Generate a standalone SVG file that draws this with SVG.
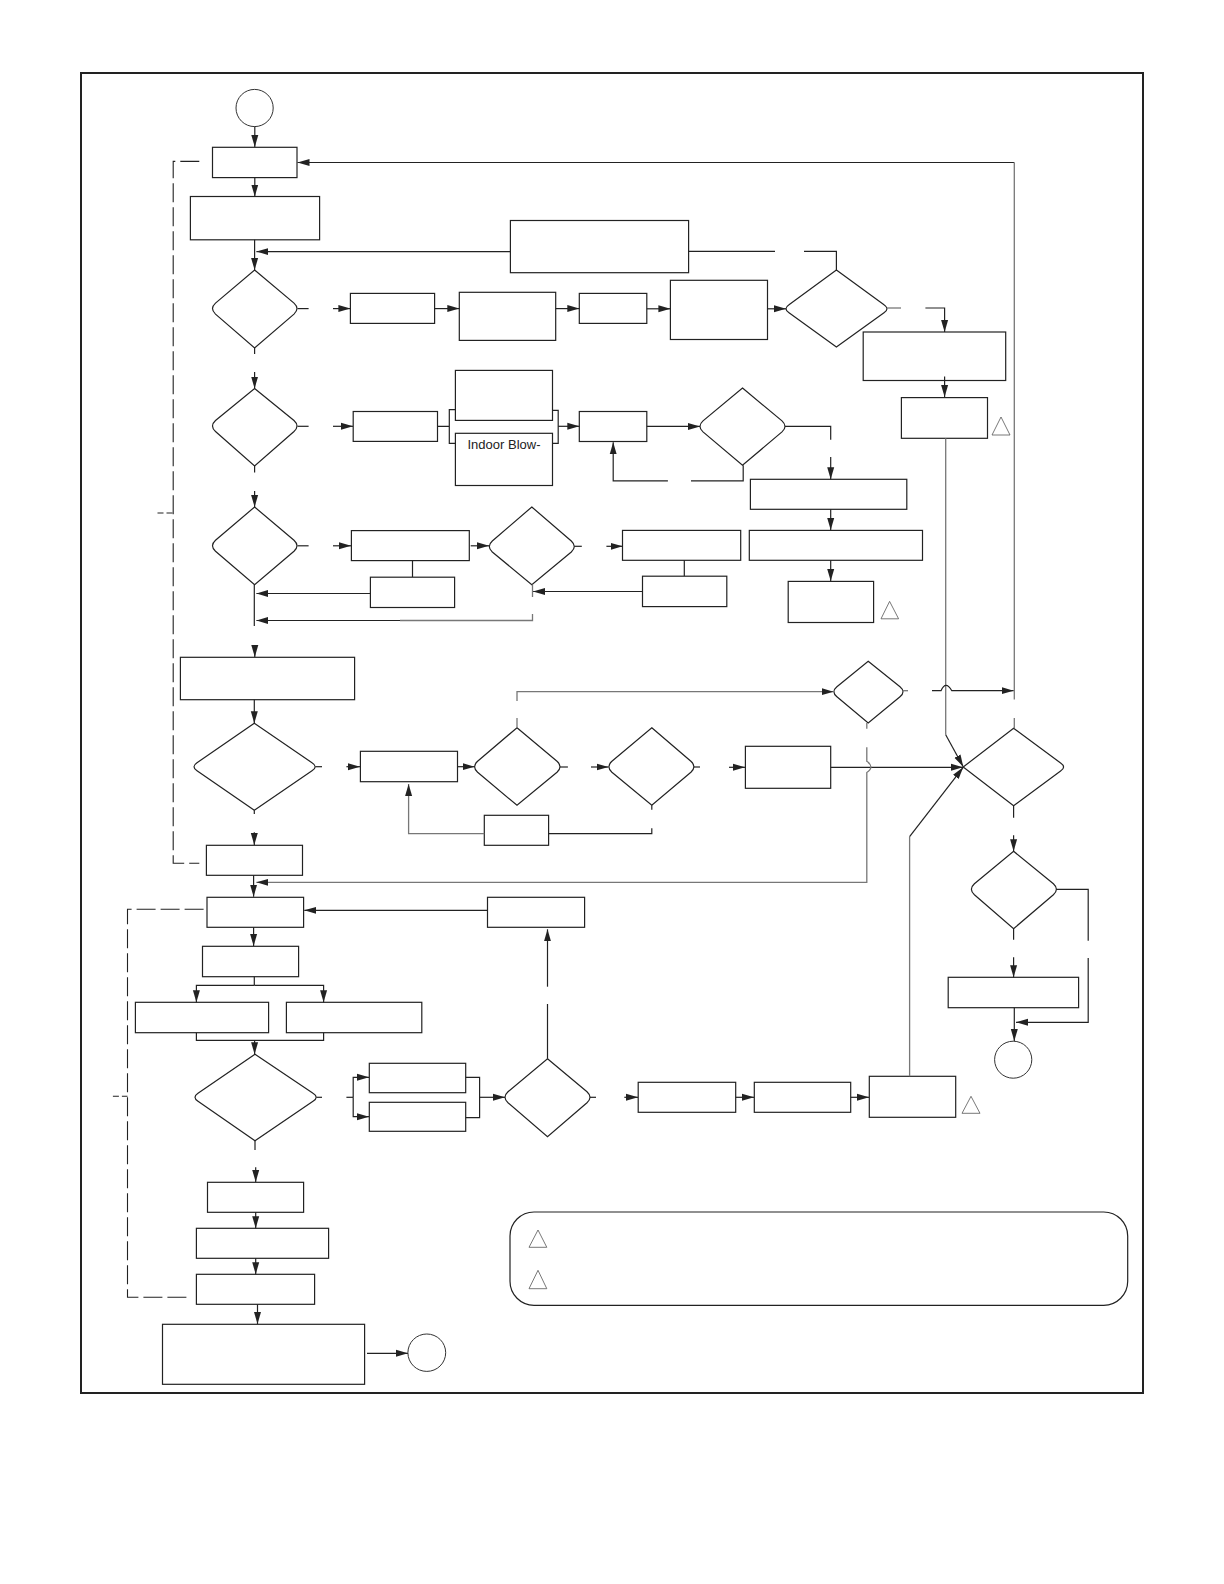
<svg xmlns="http://www.w3.org/2000/svg" width="1224" height="1584" viewBox="0 0 1224 1584">
<style>
.n{fill:#fff;stroke:#222;stroke-width:1.2}
.c{fill:#fff;stroke:#333;stroke-width:1}
.t{fill:none;stroke:#555;stroke-width:.8}
.l{fill:none;stroke:#222;stroke-width:1.2}
.g{fill:none;stroke:#777;stroke-width:1.3}
.a{marker-end:url(#ah)}
.d{fill:none;stroke:#222;stroke-width:1.1;stroke-dasharray:19 5}
.e{fill:none;stroke:#222;stroke-width:1.1;stroke-dasharray:6 3}
text{font-family:"Liberation Sans",Arial,sans-serif;font-size:13px;fill:#222}
</style>
<defs>
<marker id="ah" markerUnits="userSpaceOnUse" markerWidth="13" markerHeight="9" refX="12" refY="4" orient="auto"><path d="M0,0.5L12,4L0,7.5Z" fill="#222"/></marker>
</defs>
<rect id="frame" x="81" y="73" width="1062" height="1320" fill="#fff" stroke="#222" stroke-width="2"/>
<g id="start"><ellipse class="c" cx="254.6" cy="108" rx="18.6" ry="18.6"/></g>
<g id="box1"><rect class="n" x="212.5" y="147.3" width="84.5" height="30.3"/></g>
<g id="box2"><rect class="n" x="190.4" y="196.5" width="129.2" height="43.3"/></g>
<g id="d1"><path class="n" d="M254.6,270L294,303.1Q300,308.6 294,314.1L254.6,348L215.5,314.1Q209.5,308.6 215.5,303.1Z"/></g>
<g id="d2"><path class="n" d="M254.6,388.5L294,420.5Q300,426 294,431.5L254.6,466L215.5,431.5Q209.5,426 215.5,420.5Z"/></g>
<g id="d3"><path class="n" d="M254.6,507L294,540.3Q300,545.8 294,551.3L254.6,584.6L215.5,551.3Q209.5,545.8 215.5,540.3Z"/></g>
<g id="box3"><rect class="n" x="350.4" y="293.4" width="84.2" height="30"/></g>
<g id="box4"><rect class="n" x="459.3" y="292.3" width="96.4" height="48.1"/></g>
<g id="box5"><rect class="n" x="579.3" y="293.4" width="67.5" height="30"/></g>
<g id="box6"><rect class="n" x="670.4" y="280.3" width="97.1" height="59.2"/></g>
<g id="d4"><path class="n" d="M836.4,270L884,304.8Q890,308.8 884,312.8L836.4,347L789,312.8Q783,308.8 789,304.8Z"/></g>
<g id="box7"><rect class="n" x="510.4" y="220.5" width="178.2" height="52.2"/></g>
<g id="box8"><rect class="n" x="863.2" y="332" width="142.5" height="48.5"/></g>
<g id="box9"><rect class="n" x="901.4" y="397.6" width="86.1" height="40.7"/></g>
<g id="note-mark-1"><path class="t" d="M1001,417L1010,435H992Z"/></g>
<g id="box10"><rect class="n" x="353.2" y="411.5" width="84.3" height="29.9"/></g>
<g id="box11"><rect class="n" x="455.4" y="370.4" width="97.1" height="50"/></g>
<g id="box12"><rect class="n" x="455.4" y="433.3" width="97.1" height="52.2"/><text x="504" y="448.5" text-anchor="middle">Indoor Blow-</text></g>
<g id="box13"><rect class="n" x="579.3" y="411.5" width="67.5" height="30"/></g>
<g id="d5"><path class="n" d="M742.5,388L782,420.9Q788,426.4 782,431.9L742.5,465.3L703,431.9Q697,426.4 703,420.9Z"/></g>
<g id="box14"><rect class="n" x="750.4" y="479.3" width="156.4" height="30"/></g>
<g id="box15"><rect class="n" x="749.3" y="530.4" width="173.2" height="29.9"/></g>
<g id="box16"><rect class="n" x="788.2" y="581.4" width="85.4" height="41.1"/></g>
<g id="note-mark-2"><path class="t" d="M889.6,601.4L898.6,618.8H881Z"/></g>
<g id="box17"><rect class="n" x="351.4" y="530.6" width="117.9" height="30"/></g>
<g id="d6"><path class="n" d="M531.8,507L571.3,541Q577.3,546.5 571.3,552L531.8,584.6L492.3,552Q486.3,546.5 492.3,541Z"/></g>
<g id="box18"><rect class="n" x="370.4" y="577.2" width="84.2" height="30.3"/></g>
<g id="box19"><rect class="n" x="622.5" y="530.4" width="118.2" height="29.9"/></g>
<g id="box20"><rect class="n" x="642.5" y="576.2" width="84.3" height="30.4"/></g>
<g id="box21"><rect class="n" x="180.4" y="657.3" width="174.2" height="42.4"/></g>
<g id="d7"><path class="n" d="M254.3,723.3L312,762.7Q318.4,766.7 312,770.7L254.3,810.3L197,770.7Q191,766.7 197,762.7Z"/></g>
<g id="box22"><rect class="n" x="360.4" y="751.3" width="97.1" height="30.4"/></g>
<g id="d8"><path class="n" d="M517,727.7L557,761.2Q563,766.7 557,772.2L517,805.3L477.6,772.2Q471.6,766.7 477.6,761.2Z"/></g>
<g id="d9"><path class="n" d="M651.8,727.7L690.9,761.2Q696.9,766.7 690.9,772.2L651.8,805.3L611.9,772.2Q605.9,766.7 611.9,761.2Z"/></g>
<g id="box23"><rect class="n" x="745.4" y="746.3" width="85.3" height="42"/></g>
<g id="box24"><rect class="n" x="484.3" y="815.3" width="64.3" height="30"/></g>
<g id="box25"><rect class="n" x="206.4" y="845.3" width="96.1" height="30"/></g>
<g id="d10"><path class="n" d="M868.2,661.3L900,686.7Q906,691.7 900,696.7L868.2,723L836.9,696.7Q830.9,691.7 836.9,686.7Z"/></g>
<g id="box26"><rect class="n" x="207" y="897.3" width="96.6" height="30"/></g>
<g id="box27"><rect class="n" x="487.5" y="897.3" width="97.1" height="30"/></g>
<g id="box28"><rect class="n" x="202.5" y="946.3" width="96.1" height="30.4"/></g>
<g id="box29"><rect class="n" x="135.4" y="1002.3" width="133.2" height="30.4"/></g>
<g id="box30"><rect class="n" x="286.4" y="1002.3" width="135.4" height="30.4"/></g>
<g id="d11"><path class="n" d="M255,1054.3L313,1093.3Q319.4,1097.3 313,1101.3L255,1140.7L198,1101.3Q192,1097.3 198,1093.3Z"/></g>
<g id="box31"><rect class="n" x="369.3" y="1063.3" width="96.4" height="29.4"/></g>
<g id="box32"><rect class="n" x="369.3" y="1102.3" width="96.4" height="29"/></g>
<g id="d12"><path class="n" d="M547.5,1058.7L587,1091.8Q593,1097.3 587,1102.8L547.5,1136.7L508,1102.8Q502,1097.3 508,1091.8Z"/></g>
<g id="box33"><rect class="n" x="638.2" y="1082.3" width="97.5" height="30"/></g>
<g id="box34"><rect class="n" x="754.3" y="1082.3" width="96.4" height="30"/></g>
<g id="box35"><rect class="n" x="869.3" y="1076.3" width="86.4" height="41"/></g>
<g id="note-mark-3"><path class="t" d="M971,1096.3L980,1113.3H962Z"/></g>
<g id="d13"><path class="n" d="M1013.6,728.3L1060.6,763Q1066.6,767 1060.6,771L1013.6,805.7L963.2,767Z"/></g>
<g id="d14"><path class="n" d="M1013.6,851.3L1053.4,883.8Q1059.4,889.3 1053.4,894.8L1013.6,928.7L974.4,894.8Q968.4,889.3 974.4,883.8Z"/></g>
<g id="box36"><rect class="n" x="948.2" y="977.3" width="130.4" height="30.4"/></g>
<g id="end-a"><ellipse class="c" cx="1013.2" cy="1059.7" rx="18.6" ry="18.5"/></g>
<g id="box37"><rect class="n" x="207.5" y="1182.3" width="96.1" height="30"/></g>
<g id="box38"><rect class="n" x="196.4" y="1228.3" width="132.2" height="30"/></g>
<g id="box39"><rect class="n" x="196.4" y="1274.3" width="118.2" height="30"/></g>
<g id="box40"><rect class="n" x="162.5" y="1324.3" width="202.1" height="60"/></g>
<g id="end-b"><ellipse class="c" cx="426.8" cy="1352.7" rx="18.9" ry="18.7"/></g>
<g id="notes"><rect class="n" x="510" y="1212" width="617.7" height="93.3" rx="24" ry="24"/><path class="t" d="M538,1230L546.8,1247.3H529Z"/><path class="t" d="M538,1270.3L546.8,1288.7H529Z"/></g>
<g id="connectors">
<path class="l a" d="M254.8,126.6V147"/>
<path class="l a" d="M254.8,177.6V196.5"/>
<path class="l a" d="M254.6,239.8V270"/>
<path class="l a" d="M1014.3,162.5H297.5"/>
<path class="g" d="M1014.3,162.5V699.4"/>
<path class="g" d="M1014.3,718V728.3"/>
<path class="l a" d="M510.4,251.6H256.4"/>
<path class="l" d="M688.6,251.4H775M804,251.4H836.4V270"/>
<path class="l" d="M254.6,348V354"/>
<path class="l a" d="M254.6,372V388.5"/>
<path class="l" d="M254.6,466V472.5"/>
<path class="l a" d="M254.6,491V507"/>
<path class="l" d="M254.3,584.6V626"/>
<path class="l a" d="M370.4,593.5H256.4"/>
<path class="l" d="M297.5,308.6H308.6"/>
<path class="l a" d="M333,308.6H350.4"/>
<path class="l a" d="M434.6,308.6H459.3"/>
<path class="l a" d="M555.7,308.6H579.3"/>
<path class="l a" d="M646.8,308.8H670.4"/>
<path class="l a" d="M767.5,308.8H786"/>
<path class="g" d="M887,308H901"/>
<path class="l a" d="M925.4,308H944.6V332"/>
<path class="l a" d="M944.6,376.5V397"/>
<path class="g" d="M945.7,438.3V734.7"/>
<path class="l a" d="M945.7,734.7L963.2,766.7"/>
<path class="l" d="M297.5,426.3H308.6"/>
<path class="l a" d="M333,426.3H353"/>
<path class="l" d="M437.5,426.3H449.3M455.4,409.6H449.3V443.3H455.4"/>
<path class="l" d="M552.5,410.3H558.2V443.3H552.5"/>
<path class="l a" d="M558.2,426.3H579.3"/>
<path class="l a" d="M646.8,426.4H700"/>
<path class="l" d="M743.2,465.3V480.8H691"/>
<path class="l a" d="M667.9,480.8H613.2V442.3"/>
<path class="l" d="M785,426.4H830.7V439.7"/>
<path class="l a" d="M830.7,457V479.3"/>
<path class="l a" d="M830.7,509.3V530"/>
<path class="l a" d="M830.7,560.3V581"/>
<path class="l" d="M297.5,545.8H308.6"/>
<path class="l a" d="M333,545.8H351"/>
<path class="l a" d="M470.7,545.8H489"/>
<path class="l" d="M412.5,560.6V577"/>
<path class="l" d="M574.3,546.3H581.8"/>
<path class="l a" d="M606.4,546.3H622.5"/>
<path class="l" d="M684.3,560.3V576"/>
<path class="l a" d="M642.5,591.5H533"/>
<path class="g" d="M532.5,584.6V597"/>
<path class="g" d="M532.5,614V620.5H400"/>
<path class="l a" d="M400,620.5H256.4"/>
<path class="l a" d="M254.8,645V657"/>
<path class="l a" d="M254.3,699.7V723.3"/>
<path class="l" d="M315.4,766.7H322"/>
<path class="l a" d="M346.4,766.7H360"/>
<path class="l a" d="M457.5,766.7H474.5"/>
<path class="g" d="M517,727.7V718"/>
<path class="g a" d="M517,701V691.7H833.5"/>
<path class="l" d="M560,767H567.9"/>
<path class="l a" d="M591,767H608.5"/>
<path class="l" d="M694,767H700"/>
<path class="l a" d="M729,767.3H745"/>
<path class="l a" d="M830.7,767.3H963"/>
<path class="l" d="M651.8,805.3V809.7"/>
<path class="l" d="M651.8,828.3V833.7H548.6"/>
<path class="g a" d="M484.3,833.7H408.6V784"/>
<path class="l" d="M254.3,810.3V814"/>
<path class="l a" d="M254.3,832.3V845"/>
<path class="l a" d="M253.6,875.3V896.7"/>
<path class="g a" d="M866.8,747.3V761.3Q875,767 866.8,772.5V882.3H256.4"/>
<path class="g" d="M866.8,723V728.7"/>
<path class="g" d="M903,690.7H908"/>
<path class="l a" d="M932,690.7H941Q945.7,680 951.8,690.7H1013.6"/>
<path class="l a" d="M487.5,910.3H304.3"/>
<path class="l a" d="M253.6,927.3V946"/>
<path class="l" d="M254.3,976.7V985.3"/>
<path class="l a" d="M254.3,985.3H196.4V1002.3"/>
<path class="l a" d="M254.3,985.3H323.6V1002.3"/>
<path class="l" d="M196.4,1032.7V1040.3H323.6V1032.7"/>
<path class="l a" d="M254.6,1040.3V1054.3"/>
<path class="l" d="M316.4,1097.3H322"/>
<path class="l" d="M346.4,1097.3H353.2"/>
<path class="l a" d="M353.2,1097.3V1077.3H369"/>
<path class="l a" d="M353.2,1097.3V1116.7H369"/>
<path class="l" d="M465.7,1077.3H479.6V1117.7H465.7"/>
<path class="l a" d="M479.6,1097.3H505"/>
<path class="l" d="M547.5,1058.7V1004"/>
<path class="l a" d="M547.5,986.7V929.3"/>
<path class="l" d="M590,1097.3H596"/>
<path class="l a" d="M624.3,1097.3H638"/>
<path class="l a" d="M735.7,1097.3H754"/>
<path class="l a" d="M850.7,1097.3H869"/>
<path class="g" d="M909.6,1076.3V836.7"/>
<path class="l a" d="M909.6,836.7L963.2,767.3"/>
<path class="l" d="M1013.6,805.7V817.7"/>
<path class="l a" d="M1013.6,835.3V851.3"/>
<path class="l" d="M1013.6,928.7V939.7"/>
<path class="l a" d="M1013.6,957.3V977.3"/>
<path class="l" d="M1056.4,889.3H1088.2V940.7"/>
<path class="l a" d="M1088.2,958V1022.3H1016"/>
<path class="l a" d="M1014.3,1007.7V1041"/>
<path class="l" d="M255,1140.7V1150"/>
<path class="l a" d="M255.7,1167.3V1182"/>
<path class="l a" d="M255.7,1212.3V1228.3"/>
<path class="l a" d="M255.7,1258.3V1274.3"/>
<path class="l a" d="M257.5,1304.3V1324"/>
<path class="l a" d="M367,1353.3H407.9"/>
<path class="d" d="M199.3,161.4H173.2V863.3H199.3"/>
<path class="e" d="M157.5,513H173.2"/>
<path class="d" d="M203.6,909.3H127.5V1297.3H189.3"/>
<path class="e" d="M112.9,1096.3H127.5"/>
</g>
</svg>
